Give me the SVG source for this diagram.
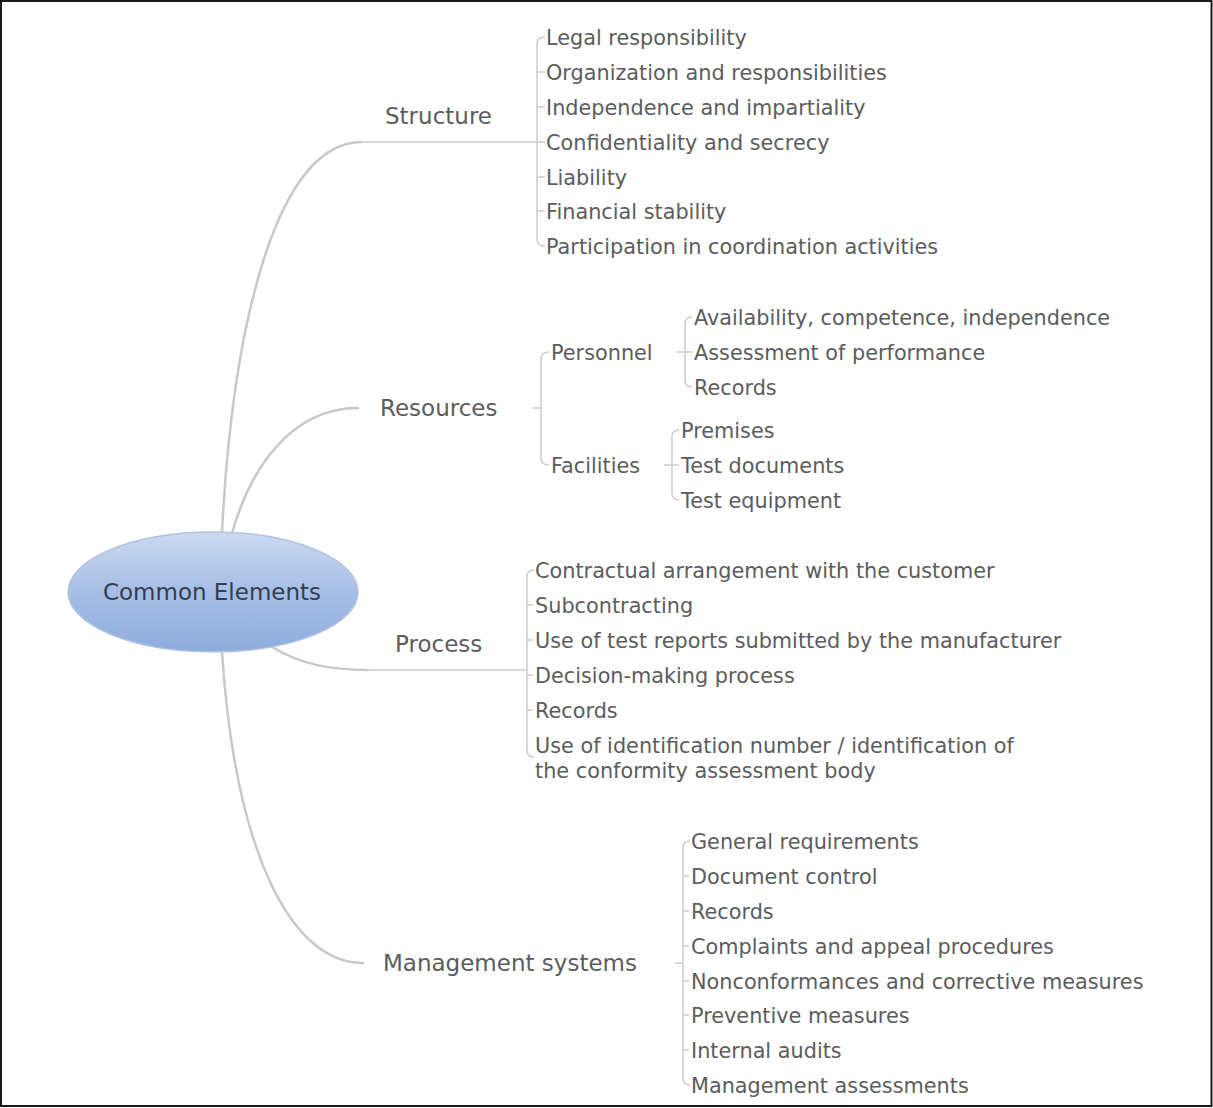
<svg xmlns="http://www.w3.org/2000/svg" width="1213" height="1108" viewBox="0 0 1213 1108">
<defs>
<linearGradient id="gc" x1="0" y1="0" x2="0" y2="1">
<stop offset="0" stop-color="#cbd9f0"/>
<stop offset="0.5" stop-color="#a6bfe6"/>
<stop offset="1" stop-color="#8eacdc"/>
</linearGradient>
</defs>
<style>
.t{font-family:"DejaVu Sans","Verdana",sans-serif;font-size:20.8px;fill:#5c5c5c}
.b{font-family:"DejaVu Sans","Verdana",sans-serif;font-size:23px;fill:#5c5c5c}
.c{font-family:"DejaVu Sans","Verdana",sans-serif;font-size:23px;fill:#333d4e}
.main{fill:none;stroke:#c8c8c8;stroke-width:2.5;stroke-linecap:round}
.ln{fill:none;stroke:#cccccc;stroke-width:1.5}
</style>
<rect x="0" y="0" width="1213" height="1108" fill="#ffffff"/>
<rect x="1" y="1" width="1210.5" height="1105" fill="none" stroke="#1a1a1a" stroke-width="2"/>

<g id="connectors">
<path class="main" d="M222,533 C232,330 275,142 362,142"/>
<path class="ln" d="M360,142 L537,142"/>
<path class="main" d="M232,533 C250,470 290,408 358,408"/>
<path class="main" d="M272,647 C300,664 330,670 368,670"/>
<path class="ln" d="M366,670 L527,670"/>
<path class="main" d="M222,652 C235,850 290,963 363,963"/>

<path class="ln" d="M545,37 Q537,37 537,44 L537,239 Q537,246 545,246 M537,72 H545 M537,107 H545 M537,142 H545 M537,177 H545 M537,211 H545"/>
<path class="ln" d="M533,408 H541 M549,352 Q541,352 541,359 L541,458 Q541,465 549,465"/>
<path class="ln" d="M677,352 H692 M692,317 Q685,317 685,324 L685,380 Q685,387 692,387"/>
<path class="ln" d="M664,465 H679 M679,430 Q672,430 672,437 L672,493 Q672,500 679,500"/>
<path class="ln" d="M534,570 Q527,570 527,577 L527,750 Q527,757 534,757 M527,605 H533 M527,640 H533 M527,675 H533 M527,710 H533"/>
<path class="ln" d="M675,963 H683 M690,841 Q683,841 683,848 L683,1078 Q683,1085 690,1085 M683,876 H689 M683,911 H689 M683,946 H689 M683,981 H689 M683,1015 H689 M683,1050 H689"/>
</g>

<g id="center">
<ellipse cx="213" cy="592" rx="145" ry="60" fill="url(#gc)" stroke="#b3c3dc" stroke-width="1.5"/>
<text class="c" x="212" y="600" text-anchor="middle">Common Elements</text>
</g>

<g id="structure">
<text class="b" x="385" y="124">Structure</text>
</g>
<g id="structure-children">
<text class="t" x="546" y="45">Legal responsibility</text>
<text class="t" x="546" y="80">Organization and responsibilities</text>
<text class="t" x="546" y="115">Independence and impartiality</text>
<text class="t" x="546" y="150">Confidentiality and secrecy</text>
<text class="t" x="546" y="185">Liability</text>
<text class="t" x="546" y="219">Financial stability</text>
<text class="t" x="546" y="254">Participation in coordination activities</text>
</g>

<g id="resources">
<text class="b" x="380" y="416">Resources</text>
</g>
<g id="personnel">
<text class="t" x="551" y="360">Personnel</text>
</g>
<g id="personnel-children">
<text class="t" x="694" y="325">Availability, competence, independence</text>
<text class="t" x="694" y="360">Assessment of performance</text>
<text class="t" x="694" y="395">Records</text>
</g>
<g id="facilities">
<text class="t" x="551" y="473">Facilities</text>
</g>
<g id="facilities-children">
<text class="t" x="681" y="438">Premises</text>
<text class="t" x="681" y="473">Test documents</text>
<text class="t" x="681" y="508">Test equipment</text>
</g>

<g id="process">
<text class="b" x="395" y="652">Process</text>
</g>
<g id="process-children">
<text class="t" x="535" y="578">Contractual arrangement with the customer</text>
<text class="t" x="535" y="613">Subcontracting</text>
<text class="t" x="535" y="648">Use of test reports submitted by the manufacturer</text>
<text class="t" x="535" y="683">Decision-making process</text>
<text class="t" x="535" y="718">Records</text>
<text class="t" x="535" y="753">Use of identification number / identification of</text>
<text class="t" x="535" y="778">the conformity assessment body</text>
</g>

<g id="management">
<text class="b" x="383" y="971">Management systems</text>
</g>
<g id="management-children">
<text class="t" x="691" y="849">General requirements</text>
<text class="t" x="691" y="884">Document control</text>
<text class="t" x="691" y="919">Records</text>
<text class="t" x="691" y="954">Complaints and appeal procedures</text>
<text class="t" x="691" y="989">Nonconformances and corrective measures</text>
<text class="t" x="691" y="1023">Preventive measures</text>
<text class="t" x="691" y="1058">Internal audits</text>
<text class="t" x="691" y="1093">Management assessments</text>
</g>
</svg>
